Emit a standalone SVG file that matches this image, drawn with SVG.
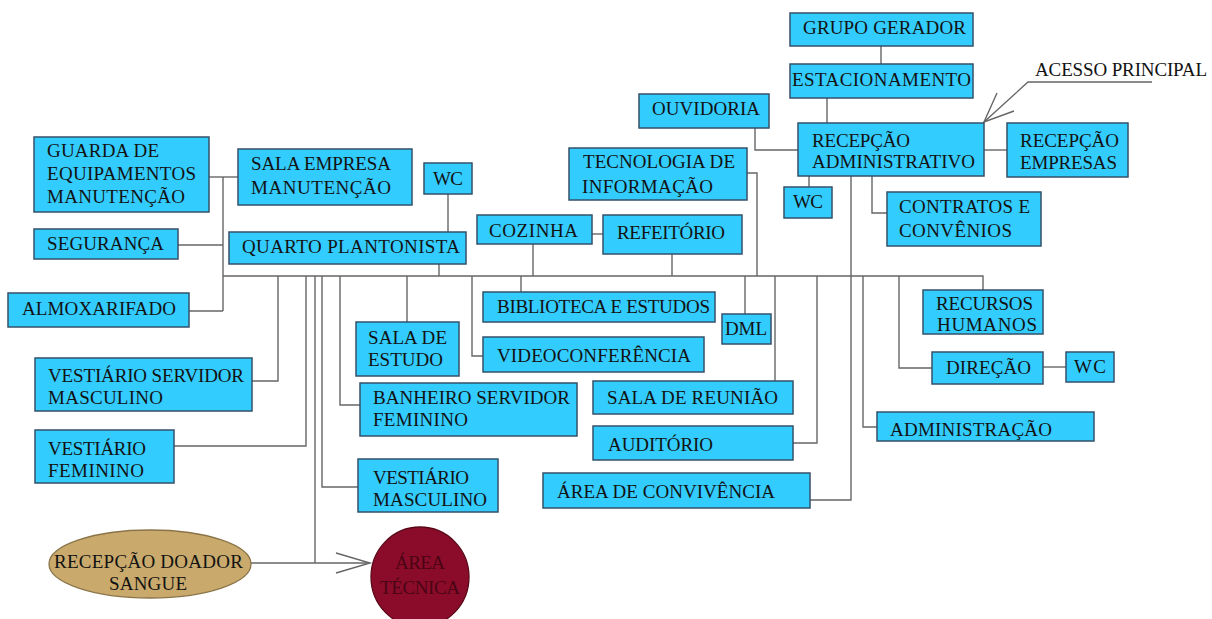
<svg xmlns="http://www.w3.org/2000/svg" width="1212" height="619" viewBox="0 0 1212 619">
<defs>
<style>
.b{fill:#33CCFF;stroke:#34526a;stroke-width:1.5}
.t{font-family:"Liberation Serif","Times New Roman",serif;font-size:19px;fill:#121212}
.c{fill:none;stroke:#666666;stroke-width:1.4}
</style>
</defs>
<rect width="1212" height="619" fill="#ffffff"/>
<g id="connectors" class="c">
<path d="M209,177H238"/>
<path d="M223,177V311"/>
<path d="M178,245H223"/>
<path d="M189,311H223"/>
<path d="M223,276H983V290"/>
<path d="M439,264V276"/>
<path d="M448,194V232"/>
<path d="M533,244V276"/>
<path d="M672,254V276"/>
<path d="M592,234H603"/>
<path d="M747,173H757V276"/>
<path d="M851,176V500H810"/>
<path d="M809,176V187"/>
<path d="M872,176V213H887"/>
<path d="M984,150H1007"/>
<path d="M755,128V150H798"/>
<path d="M827,98V123"/>
<path d="M881,46V64"/>
<path d="M278,276V381H252"/>
<path d="M306,276V446H174"/>
<path d="M315,276V563"/>
<path d="M322,276V487H358"/>
<path d="M340,276V405H360"/>
<path d="M407,276V322"/>
<path d="M472,276V356H483"/>
<path d="M521,276V292"/>
<path d="M745,276V314"/>
<path d="M775,276V381"/>
<path d="M817,276V443H793"/>
<path d="M863,276V427H877"/>
<path d="M899,276V368H932"/>
<path d="M1043,367H1066"/>
<path d="M251,563H370"/>
<path d="M336,553L370,563L336,573"/>
<path d="M1152,82H1028L984,122"/>
<path d="M997,93L984,122L1014,111"/>
</g>
<g id="guarda"><rect class="b" x="34" y="137" width="175" height="75"/><text class="t" x="47" y="157" textLength="112">GUARDA DE</text><text class="t" x="47" y="180" textLength="149">EQUIPAMENTOS</text><text class="t" x="47" y="203" textLength="138">MANUTENÇÃO</text></g>
<g id="sala-empresa"><rect class="b" x="238" y="149" width="174" height="56"/><text class="t" x="251" y="170" textLength="140">SALA EMPRESA</text><text class="t" x="251" y="194" textLength="140">MANUTENÇÃO</text></g>
<g id="wc1"><rect class="b" x="424" y="163" width="48" height="31"/><text class="t" x="433" y="185" textLength="30">WC</text></g>
<g id="seguranca"><rect class="b" x="34" y="229" width="144" height="30"/><text class="t" x="47" y="250" textLength="117">SEGURANÇA</text></g>
<g id="quarto"><rect class="b" x="229" y="232" width="237" height="32"/><text class="t" x="242" y="253" textLength="218">QUARTO PLANTONISTA</text></g>
<g id="almoxarifado"><rect class="b" x="8" y="293" width="181" height="34"/><text class="t" x="22" y="315" textLength="154">ALMOXARIFADO</text></g>
<g id="vest-serv-masc"><rect class="b" x="35" y="358" width="217" height="53"/><text class="t" x="48" y="382" textLength="196">VESTIÁRIO SERVIDOR</text><text class="t" x="48" y="404" textLength="115">MASCULINO</text></g>
<g id="vest-fem"><rect class="b" x="35" y="430" width="139" height="53"/><text class="t" x="48" y="455" textLength="98">VESTIÁRIO</text><text class="t" x="48" y="477" textLength="96">FEMININO</text></g>
<g id="sala-estudo"><rect class="b" x="356" y="322" width="103" height="54"/><text class="t" x="368" y="344" textLength="79">SALA DE</text><text class="t" x="368" y="366" textLength="75">ESTUDO</text></g>
<g id="banheiro"><rect class="b" x="360" y="383" width="217" height="53"/><text class="t" x="373" y="404" textLength="197">BANHEIRO SERVIDOR</text><text class="t" x="373" y="426" textLength="95">FEMININO</text></g>
<g id="vest-masc"><rect class="b" x="358" y="459" width="140" height="53"/><text class="t" x="373" y="484" textLength="96">VESTIÁRIO</text><text class="t" x="373" y="506" textLength="114">MASCULINO</text></g>
<g id="doador"><ellipse cx="150" cy="564" rx="101" ry="34" fill="#C9AA6C" stroke="#8a7448" stroke-width="1.3"/><text class="t" x="54" y="568" textLength="189">RECEPÇÃO DOADOR</text><text class="t" x="109" y="590" textLength="78">SANGUE</text></g>
<g id="area-tecnica"><ellipse cx="420" cy="577" rx="49" ry="50" fill="#8B0C2A" stroke="#5a0818" stroke-width="1.3"/><text class="t" x="395" y="569" textLength="50" style="fill:#4a0414">ÁREA</text><text class="t" x="380" y="594" textLength="80" style="fill:#4a0414">TÉCNICA</text></g>
<g id="cozinha"><rect class="b" x="477" y="215" width="115" height="29"/><text class="t" x="489" y="237" textLength="89">COZINHA</text></g>
<g id="refeitorio"><rect class="b" x="603" y="215" width="139" height="39"/><text class="t" x="617" y="239" textLength="108">REFEITÓRIO</text></g>
<g id="biblioteca"><rect class="b" x="483" y="292" width="232" height="30"/><text class="t" x="497" y="313" textLength="213">BIBLIOTECA E ESTUDOS</text></g>
<g id="dml"><rect class="b" x="722" y="314" width="49" height="30"/><text class="t" x="725" y="335" textLength="42">DML</text></g>
<g id="video"><rect class="b" x="483" y="337" width="221" height="35"/><text class="t" x="497" y="362" textLength="194">VIDEOCONFERÊNCIA</text></g>
<g id="reuniao"><rect class="b" x="593" y="381" width="200" height="33"/><text class="t" x="607" y="404" textLength="171">SALA DE REUNIÃO</text></g>
<g id="auditorio"><rect class="b" x="593" y="426" width="200" height="34"/><text class="t" x="608" y="451" textLength="105">AUDITÓRIO</text></g>
<g id="convivencia"><rect class="b" x="543" y="473" width="267" height="35"/><text class="t" x="557" y="498" textLength="218">ÁREA DE CONVIVÊNCIA</text></g>
<g id="grupo-gerador"><rect class="b" x="790" y="13" width="183" height="33"/><text class="t" x="803" y="34" textLength="163">GRUPO GERADOR</text></g>
<g id="estacionamento"><rect class="b" x="790" y="64" width="183" height="34"/><text class="t" x="792" y="86" textLength="179">ESTACIONAMENTO</text></g>
<g id="ouvidoria"><rect class="b" x="639" y="94" width="130" height="34"/><text class="t" x="652" y="115" textLength="108">OUVIDORIA</text></g>
<g id="recepcao-adm"><rect class="b" x="798" y="123" width="186" height="53"/><text class="t" x="812" y="147" textLength="98">RECEPÇÃO</text><text class="t" x="812" y="168" textLength="163">ADMINISTRATIVO</text></g>
<g id="tecnologia"><rect class="b" x="569" y="148" width="178" height="52"/><text class="t" x="583" y="168" textLength="152">TECNOLOGIA DE</text><text class="t" x="582" y="193" textLength="131">INFORMAÇÃO</text></g>
<g id="wc2"><rect class="b" x="784" y="187" width="48" height="31"/><text class="t" x="793" y="208" textLength="30">WC</text></g>
<g id="contratos"><rect class="b" x="887" y="192" width="154" height="54"/><text class="t" x="899" y="213" textLength="131">CONTRATOS E</text><text class="t" x="899" y="237" textLength="113">CONVÊNIOS</text></g>
<g id="recepcao-emp"><rect class="b" x="1007" y="123" width="121" height="54"/><text class="t" x="1020" y="147" textLength="99">RECEPÇÃO</text><text class="t" x="1020" y="169" textLength="97">EMPRESAS</text></g>
<g id="acesso"><text class="t" x="1035" y="76" textLength="172">ACESSO PRINCIPAL</text></g>
<g id="recursos"><rect class="b" x="923" y="290" width="120" height="44"/><text class="t" x="936" y="310" textLength="97">RECURSOS</text><text class="t" x="937" y="331" textLength="100">HUMANOS</text></g>
<g id="direcao"><rect class="b" x="932" y="352" width="111" height="32"/><text class="t" x="946" y="374" textLength="85">DIREÇÃO</text></g>
<g id="wc3"><rect class="b" x="1066" y="352" width="48" height="30"/><text class="t" x="1074" y="373" textLength="32">WC</text></g>
<g id="administracao"><rect class="b" x="877" y="412" width="217" height="29"/><text class="t" x="890" y="436" textLength="162">ADMINISTRAÇÃO</text></g>
</svg>
